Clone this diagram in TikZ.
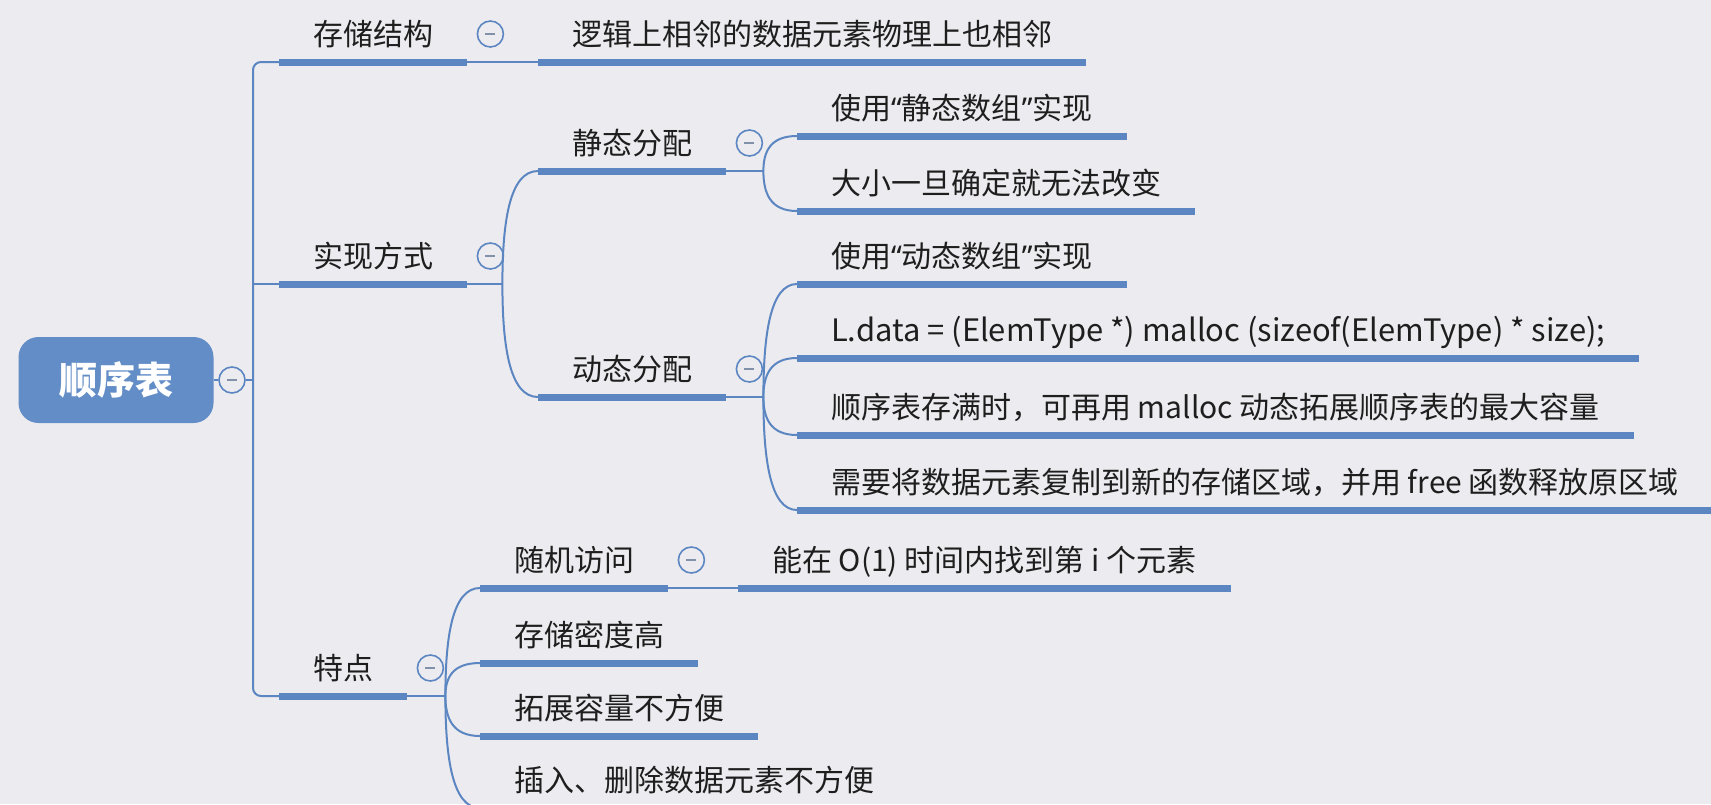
\documentclass[tikz,border=0pt]{standalone}
\usepackage{fontspec}
\newfontfamily\cjk{Noto Sans CJK SC}
\newfontfamily\quotefont{Noto Sans}
\usetikzlibrary{calc, positioning}

\definecolor{mapblue}{RGB}{92,134,194}
\definecolor{rootblue}{RGB}{99,141,199}
\definecolor{paper}{RGB}{236,235,239}
\definecolor{minusgray}{RGB}{130,145,170}
\definecolor{ink}{RGB}{30,30,30}

% narrow quotes as in the map
\newcommand{\mmlq}{{\quotefont “}}
\newcommand{\mmrq}{{\quotefont ”}}

\tikzset{
  topic/.style={anchor=south west, inner xsep=34pt, inner ysep=0pt,
    text height=24pt, text depth=16pt, text=ink,
    font=\cjk\fontsize{30}{36}\selectfont},
  uline/.style={mapblue, line width=7pt},
  branch/.style={mapblue, line width=2pt},
  fold/.style={circle, draw=mapblue, line width=1.6pt, fill=paper,
    minimum size=26pt, inner sep=0pt,
    path picture={\draw[minusgray, line width=2pt]
      ($(path picture bounding box.center)+(-5,0)$) --
      ($(path picture bounding box.center)+(5,0)$);}},
  curvy/.style={to path={.. controls
      ($(\tikztostart)!0.55!(\tikztostart |- \tikztotarget)$) and
      ($(\tikztotarget)!0.8!(\tikztotarget -| \tikztostart)$) .. (\tikztotarget)}},
}

\begin{document}
\begin{tikzpicture}[x=1pt, y=-1pt]

% Page
\useasboundingbox (0,0) rectangle (1711,804);
\fill[paper] (0,0) rectangle (1711,804);

% Root
\node[rounded corners=20pt, fill=rootblue, minimum width=195pt, minimum height=86pt,
  inner sep=0pt, text=white, font=\cjk\bfseries\fontsize{38}{44}\selectfont]
  (root) at (116,380) {顺序表};
\node[fold] (rootc) at (232,380) {};
\coordinate (trunk) at (253,380);

% Level 1
\node[topic] (stor) at (279,62) {存储结构};
\node[topic] (impl) at (279,284) {实现方式};
\node[topic] (feat) at (279,696) {特点};

% Level 2
\node[topic] (logic) at (538,62) {逻辑上相邻的数据元素物理上也相邻};
\node[topic] (stat) at (538,171) {静态分配};
\node[topic] (dyn) at (538,397) {动态分配};
\node[topic] (f1) at (480,588) {随机访问};
\node[topic] (f2) at (480,663) {存储密度高};
\node[topic] (f3) at (480,736) {拓展容量不方便};
\node[topic] (f4) at (480,808) {插入、删除数据元素不方便};

% Level 3
\node[topic] (s1) at (797,136) {使用\mmlq 静态数组\mmrq 实现};
\node[topic] (s2) at (797,211) {大小一旦确定就无法改变};
\node[topic] (d1) at (797,284) {使用\mmlq 动态数组\mmrq 实现};
\node[topic, font=\cjk\fontsize{30.9}{36}\selectfont]
  (d2) at (797,358) {L.data = (ElemType *) malloc (sizeof(ElemType) * size);};
\node[topic] (d3) at (797,435) {顺序表存满时，可再用 malloc 动态拓展顺序表的最大容量};
\node[topic] (d4) at (797,510) {需要将数据元素复制到新的存储区域，并用 free 函数释放原区域};
\node[topic] (f1a) at (738,588) {能在 O(1) 时间内找到第 i 个元素};

% Underlines
\foreach \n in {stor,impl,feat,logic,stat,dyn,f1,f2,f3,f4,s1,s2,d1,d2,d3,d4,f1a}
  \draw[uline] (\n.south west) -- (\n.south east);

% Fold buttons
\foreach \n in {stor,impl,feat,stat,dyn,f1}
  \node[fold] (\n c) at ($(\n.south east)+(23,-28)$) {};

% Trunk
\draw[branch] (root) -- (rootc) -- (trunk);
\draw[branch, rounded corners=8pt] (stor.south west) -| (trunk) |- (feat.south west);
\draw[branch] (trunk |- impl.south west) -- (impl.south west);

% Straight links
\draw[branch] (stor.south east) -- (logic.south west);
\draw[branch] (f1.south east) -- (f1a.south west);

% Curved branches
\coordinate (implb) at ($(impl.south east)+(35,0)$);
\coordinate (statb) at ($(stat.south east)+(37,0)$);
\coordinate (dynb) at ($(dyn.south east)+(37,0)$);
\coordinate (featb) at ($(feat.south east)+(38,0)$);

\draw[branch] (impl.south east) -- (implb);
\foreach \c in {stat,dyn}
  \draw[branch] (implb) to[curvy] (\c.south west);

\draw[branch] (stat.south east) -- (statb);
\foreach \c in {s1,s2}
  \draw[branch] (statb) to[curvy] (\c.south west);

\draw[branch] (dyn.south east) -- (dynb);
\foreach \c in {d1,d2,d3,d4}
  \draw[branch] (dynb) to[curvy] (\c.south west);

\draw[branch] (feat.south east) -- (featb);
\foreach \c in {f1,f2,f3,f4}
  \draw[branch] (featb) to[curvy] (\c.south west);

\end{tikzpicture}
\end{document}
